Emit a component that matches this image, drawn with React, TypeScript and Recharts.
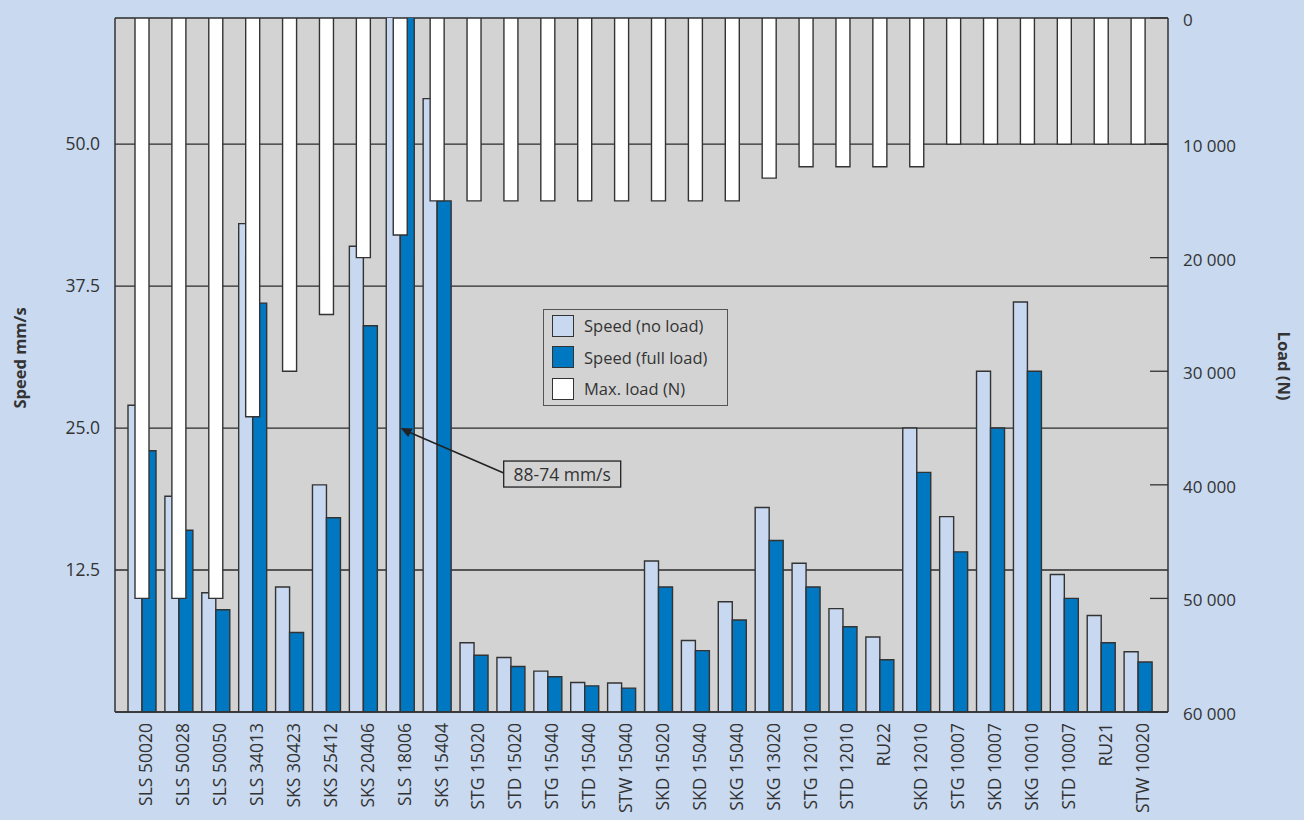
import { ComposedChart, Bar, XAxis, YAxis, CartesianGrid, Legend, ReferenceDot } from "recharts";

const models = [
  "SLS 50020", "SLS 50028", "SLS 50050", "SLS 34013", "SKS 30423", "SKS 25412", "SKS 20406",
  "SLS 18006", "SKS 15404", "STG 15020", "STD 15020", "STG 15040", "STD 15040", "STW 15040",
  "SKD 15020", "SKD 15040", "SKG 15040", "SKG 13020", "STG 12010", "STD 12010", "RU22",
  "SKD 12010", "STG 10007", "SKD 10007", "SKG 10010", "STD 10007", "RU21", "STW 10020",
];
// mm/s
const speedNoLoad = [
  27, 19, 10.5, 43, 11, 20, 41, 88, 54, 6.1, 4.8, 3.6, 2.6, 2.55,
  13.3, 6.3, 9.7, 18, 13.1, 9.1, 6.6, 25, 17.2, 30, 36.1, 12.1, 8.5, 5.3,
];
const speedFullLoad = [
  23, 16, 9, 36, 7, 17.1, 34, 74, 45, 5, 4, 3.1, 2.3, 2.1,
  11, 5.4, 8.1, 15.1, 11, 7.5, 4.6, 21.1, 14.1, 25, 30, 10, 6.1, 4.4,
];
// N
const maxLoad = [
  50000, 50000, 50000, 34000, 30000, 25000, 20000, 18000, 15000, 15000, 15000, 15000, 15000, 15000,
  15000, 15000, 15000, 13000, 12000, 12000, 12000, 12000, 10000, 10000, 10000, 10000, 10000, 10000,
];
const speedTicks = [12.5, 25, 37.5, 50];
const loadTicks = [0, 10000, 20000, 30000, 40000, 50000, 60000];

const SPEED_MAX = 61.1;
// the load scale's zero sits a little below the frame top in the original
const LOAD_TOP = -1100;

const FONT = "'Open Sans', sans-serif";
const INK = "#333";
const PLOT_BG = "#d3d3d3";
const LIGHT = "#c7d8f0";
const DARK = "#0077c1";

const data = models.map((model, i) => ({
  model,
  noLoad: speedNoLoad[i],
  fullLoad: speedFullLoad[i],
  load: [LOAD_TOP, maxLoad[i]],
}));

const fmtLoad = (v: number) => String(Math.max(0, v)).replace(/\B(?=(\d{3})+(?!\d))/g, " ");

function ModelTick({ x, y, payload }: any) {
  const tx = x + 10;
  return (
    <text x={tx} y={y} transform={`rotate(-90 ${tx} ${y})`} textAnchor="end"
      fontFamily={FONT} fontSize={17.5} fill={INK}>
      {payload.value}
    </text>
  );
}

function LoadTick({ x, y, payload }: any) {
  return (
    <g>
      <line x1={x - 33} x2={x - 15} y1={y} y2={y} stroke={INK} strokeWidth={1.3} />
      <text x={x} y={y + 2} dy="0.35em" fontFamily={FONT} fontSize={17} fill={INK}>
        {fmtLoad(payload.value)}
      </text>
    </g>
  );
}

const legendItems = [
  { label: "Speed (no load)", color: LIGHT },
  { label: "Speed (full load)", color: DARK },
  { label: "Max. load (N)", color: "#fff" },
];

function LegendBox() {
  return (
    <div style={{ border: `1.5px solid #555`, background: PLOT_BG, padding: "0 8px", fontFamily: FONT, fontSize: 16.5, color: INK, boxSizing: "border-box", width: 185 }}>
      {legendItems.map((it) => (
        <div key={it.label} style={{ display: "flex", alignItems: "center", height: 31.5 }}>
          <span style={{ width: 22, height: 22, background: it.color, border: `1.5px solid ${INK}`, boxSizing: "border-box", marginRight: 10 }} />
          <span>{it.label}</span>
        </div>
      ))}
    </div>
  );
}

function Callout({ cx, cy }: any) {
  const bx = cx + 103;
  const by = cy + 33;
  return (
    <g>
      <line x1={bx} y1={cy + 45} x2={cx + 8} y2={cy + 4} stroke="#222" strokeWidth={1.5} />
      <polygon points={`${cx},${cy} ${cx + 12},${cy + 0.5} ${cx + 7.5},${cy + 9}`} fill="#222" />
      <rect x={bx} y={by} width={117} height={26} fill={PLOT_BG} stroke="#222" strokeWidth={1.3} />
      <text x={bx + 58.5} y={by + 13} dominantBaseline="central" textAnchor="middle" fontFamily={FONT} fontSize={17.5} fill={INK}>
        88-74 mm/s
      </text>
    </g>
  );
}

export default function App() {
  return (
    <div style={{ position: "absolute", left: 0, top: 0, width: 1304, height: 820, background: "#c8d9f0" }}>
      <ComposedChart width={1304} height={820} data={data} margin={{ top: 18, right: 0, bottom: 0, left: 0 }} barGap={0}>
        <CartesianGrid xAxisId="speed" yAxisId="speed" vertical={false} stroke="#2b2b2b" strokeWidth={1.3} fill={PLOT_BG} fillOpacity={1} />
        <XAxis xAxisId="speed" dataKey="model" interval={0} height={108} padding={{ left: 9, right: 11 }}
          axisLine={{ stroke: INK, strokeWidth: 1.5 }} tickLine={false} tickSize={0} tickMargin={11} tick={<ModelTick />} />
        <XAxis xAxisId="load" dataKey="model" orientation="top" height={0} padding={{ left: 9, right: 11 }}
          axisLine={{ stroke: INK, strokeWidth: 1.5 }} tickLine={false} tick={false} />
        <YAxis yAxisId="speed" orientation="left" width={115} domain={[0, SPEED_MAX]} ticks={speedTicks} allowDataOverflow
          tickFormatter={(v: number) => v.toFixed(1)} axisLine={{ stroke: INK, strokeWidth: 1.5 }} tickLine={false} tickMargin={9}
          tick={{ fontFamily: FONT, fontSize: 17.5, fill: INK }}
          label={{
            content: () => (
              <text x={19} y={358} transform="rotate(-90 19 358)" textAnchor="middle" dominantBaseline="central"
                fontFamily={FONT} fontSize={16.5} fontWeight={700} fill={INK}>Speed mm/s</text>
            ),
          }} />
        <YAxis yAxisId="load" orientation="right" width={136} domain={[LOAD_TOP, 60000]} reversed allowDataOverflow
          ticks={[LOAD_TOP, ...loadTicks.slice(1)]} axisLine={{ stroke: INK, strokeWidth: 1.5 }} tickLine={false}
          tickSize={0} tickMargin={15} tick={<LoadTick />}
          label={{
            content: () => (
              <text x={1284} y={366} transform="rotate(90 1284 366)" textAnchor="middle" dominantBaseline="central"
                fontFamily={FONT} fontSize={16.5} fontWeight={700} fill={INK}>Load (N)</text>
            ),
          }} />
        <Bar xAxisId="speed" yAxisId="speed" dataKey="noLoad" name="Speed (no load)" barSize={14} fill={LIGHT} stroke={INK} strokeWidth={1.4} isAnimationActive={false} />
        <Bar xAxisId="speed" yAxisId="speed" dataKey="fullLoad" name="Speed (full load)" barSize={14} fill={DARK} stroke={INK} strokeWidth={1.4} isAnimationActive={false} />
        <Bar xAxisId="load" yAxisId="load" dataKey="load" name="Max. load (N)" barSize={14} fill="#fff" stroke={INK} strokeWidth={1.4} isAnimationActive={false} />
        <Legend layout="vertical" align="center" verticalAlign="middle" wrapperStyle={{ left: 543, top: 309, width: 185 }} content={() => <LegendBox />} />
        <ReferenceDot xAxisId="speed" yAxisId="speed" x="SLS 18006" y={25} r={0} shape={(p: any) => <Callout cx={p.cx} cy={p.cy} />} />
      </ComposedChart>
    </div>
  );
}
